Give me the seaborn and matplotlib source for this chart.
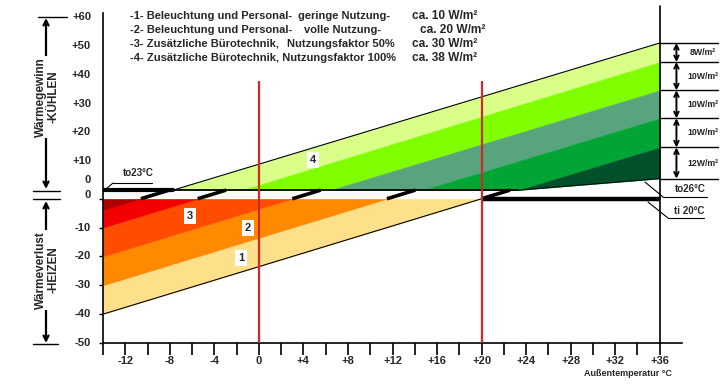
import numpy as np
import pandas as pd
import seaborn as sns
import matplotlib.pyplot as plt
from matplotlib.lines import Line2D

# --- values -----------------------------------------------------------------
t_min, t_max = -14, 36   # outdoor temperature range [°C]
gap = 3.0                # white strip between the two zero lines

# heating: value at -14 °C and temperature where each boundary reaches 0
heat_left = [-40, -30, -20, -10, -4]
heat_zero = [20, 11.5, 3.0, -5.5, -10.6]
heat_colors = ['#FFE08A', '#FF8A00', '#FF4D00', '#F50000', '#B00000']

# cooling: value at +36 °C and temperature where each boundary leaves 0
cool_right = [51, 44.4, 34.6, 24.9, 14.8]
cool_zero = [-7.7, -1.5, 6.4, 14.7, 23.3]
to26_right = 4.0
cool_colors = ['#DAFF88', '#80FF00', '#58A47C', '#00A535', '#00502A']
cool_watts = ['8W/m²', '10W/m²', '10W/m²', '10W/m²', '12W/m²']

red_temps = [0, 20]
red_top = 38

y_lower = [-50, -40, -30, -20, -10, 0]
y_upper = [0, 10, 20, 30, 40, 50, 60]
x_ticks = list(range(-14, 37, 2))
x_labels = ['' if t % 4 else ('0' if t == 0 else f'{t:+d}') for t in x_ticks]

legend_rows = [
    ('-1- Beleuchtung und Personal-', 'geringe Nutzung-', 'ca. 10 W/m²'),
    ('-2- Beleuchtung und Personal-', 'volle Nutzung-', 'ca. 20 W/m²'),
    ('-3- Zusätzliche Bürotechnik,', 'Nutzungsfaktor 50%', 'ca. 30 W/m²'),
    ('-4- Zusätzliche Bürotechnik, Nutzungsfaktor 100%', '', 'ca. 38 W/m²'),
]

sns.set_theme(style="ticks")
plt.rcParams['font.family'] = ['Liberation Sans', 'DejaVu Sans']
plt.rcParams['font.weight'] = 'bold'

W, H = 723, 385
fig = plt.figure(figsize=(W / 100, H / 100), dpi=100)
ax = fig.add_axes([103 / W, (H - 343) / H, (682 - 103) / W, (343 - 13) / H])
ax.set_xlim(-14, 38)
ax.set_ylim(-50, 64.4)


def through(x, x1, y1, x2, y2):
    return y1 + (y2 - y1) / (x2 - x1) * (x - x1)


xs = np.linspace(t_min, t_max, 2001)

# heating bands (below lower zero)
heat = [through(xs, t_min, v, z, 0) for v, z in zip(heat_left, heat_zero)]
for k, col in enumerate(heat_colors):
    lo = np.minimum(heat[k], 0)
    hi = np.minimum(heat[k + 1], 0) if k + 1 < len(heat) else np.zeros_like(xs)
    ax.fill_between(xs, lo, hi, where=hi > lo, interpolate=True,
                    color=col, lw=0.3, edgecolor=col, zorder=1)

# cooling bands (above upper zero)
cool = [through(xs, z, 0, t_max, v) for v, z in zip(cool_right, cool_zero)]
to26 = through(xs, cool_zero[-1], 0, t_max, to26_right)
for top, bot, col in zip(cool, cool[1:] + [to26], cool_colors):
    hi = np.maximum(top, 0) + gap
    lo = np.maximum(bot, 0) + gap
    ax.fill_between(xs, lo, hi, where=hi > lo, interpolate=True,
                    color=col, lw=0.3, edgecolor=col, zorder=1)

# outline lines
edge = pd.DataFrame({'t': [t_min, heat_zero[0]], 'q': [heat_left[0], 0]})
sns.lineplot(data=edge, x='t', y='q', ax=ax, color='black', lw=0.8, zorder=3)
edge = pd.DataFrame({'t': [cool_zero[0], t_max], 'q': [gap, cool_right[0] + gap]})
sns.lineplot(data=edge, x='t', y='q', ax=ax, color='black', lw=0.8, zorder=3)

ax.plot([t_min, cool_zero[-1]], [gap, gap], color='black', lw=1.3, zorder=3)
ax.plot([t_min, cool_zero[0]], [gap, gap], color='black', lw=3, zorder=3)
ax.plot([cool_zero[-1], t_max], [gap, to26_right + gap], color='black', lw=0.6, zorder=3)
ax.plot([heat_zero[0], t_max], [0, 0], color='black', lw=3.2, zorder=3,
        solid_capstyle='butt')

# heating boundaries continued through the strip
for v, z in zip(heat_left, heat_zero):
    slope = -v / (z - t_min)
    ax.plot([z, z + gap / slope], [0, gap], color='black', lw=2.6, zorder=3,
            solid_capstyle='butt')

ax.vlines(red_temps, -50, red_top + gap, color='#D02828', lw=1.6, zorder=4)
ax.plot([t_max, t_max], [-50, 67], color='black', lw=1.2, clip_on=False, zorder=4)

# right-hand scale of the cooling bands
bounds = [v + gap for v in cool_right + [to26_right]]
for b in bounds:
    ax.plot([t_max, 41.2], [b, b], color='black', lw=1, clip_on=False)
for b0, b1, lab in zip(bounds[:-1], bounds[1:], cool_watts):
    ax.annotate('', xy=(37.5, b0), xytext=(37.5, b1), annotation_clip=False,
                arrowprops=dict(arrowstyle='<->', lw=1.4, color='black',
                                mutation_scale=8, shrinkA=0, shrinkB=0))
    ax.text(39.9, (b0 + b1) / 2, lab, fontsize=6.3, fontweight='bold',
            ha='center', va='center', clip_on=False)

# band numbers
for s, t, q in [('1', -1.6, -20.5), ('2', -1.0, -10.1), ('3', -6.2, -6.0),
                ('4', 4.85, 10.4 + gap)]:
    ax.text(t, q, s, fontsize=8, fontweight='bold', ha='center', va='center',
            zorder=6, bbox=dict(facecolor='white', edgecolor='none', pad=2.2))

# axes
for side in ['top', 'right']:
    ax.spines[side].set_visible(False)
for side in ['left', 'bottom']:
    ax.spines[side].set_linewidth(1.2)
    ax.spines[side].set_color('black')
ax.set_xticks(x_ticks)
ax.set_xticklabels(x_labels, fontsize=8, fontweight='bold')
ax.tick_params(axis='x', length=8.6, width=1.2, pad=1, color='black')
ax.set_yticks(y_lower)
ax.set_yticklabels([])
ax.tick_params(axis='y', length=3, width=1, color='black')
ax.set_xlabel('')
ax.set_ylabel('')

ytr = ax.get_yaxis_transform()
for v in y_lower:
    ax.text(-0.0207, v + (1.3 if v == 0 else 0), '0' if v == 0 else str(v),
            transform=ytr, ha='right', va='center', fontsize=8, fontweight='bold')
for v in y_upper:
    ax.text(-0.0207, v + gap + (3.5 if v == 0 else 0), '0' if v == 0 else f'+{v}',
            transform=ytr, ha='right', va='center', fontsize=8, fontweight='bold')


# annotations in pixel positions
def seg(x1, y1, x2, y2, lw=1.0):
    fig.add_artist(Line2D([x1 / W, x2 / W], [1 - y1 / H, 1 - y2 / H],
                          transform=fig.transFigure, color='black', lw=lw))


def txt(x, y, s, **kw):
    fig.text(x / W, 1 - y / H, s, fontweight='bold', **kw)


def arrow(x, y1, y2):
    ax.annotate('', xy=(x, H - y1), xytext=(x, H - y2), xycoords='figure pixels',
                textcoords='figure pixels',
                arrowprops=dict(arrowstyle='<->', lw=1.6, color='black',
                                mutation_scale=9, shrinkA=0, shrinkB=0))


seg(38, 17, 67, 17)
seg(33, 190.7, 60, 190.7)
seg(33, 199.3, 60, 199.3)
seg(33, 344, 58, 344)
arrow(46, 18, 189)
arrow(46, 201, 343)
txt(47, 97, 'Wärmegewinn\n-KÜHLEN', rotation=90, ha='center', va='center',
    fontsize=8.5, linespacing=1.0,
    bbox=dict(facecolor='white', edgecolor='none', pad=0.5))
txt(47, 270, 'Wärmeverlust\n-HEIZEN', rotation=90, ha='center', va='center',
    fontsize=8.5, linespacing=1.0,
    bbox=dict(facecolor='white', edgecolor='none', pad=0.5))

col2_x = [298, 304, 287, None]
col3_x = [412, 420, 412, 412]
for (a, b, c), x2, x3, y in zip(legend_rows, col2_x, col3_x, [16, 30, 44, 58]):
    txt(130, y, a, ha='left', va='center', fontsize=8)
    if b:
        txt(x2, y, b, ha='left', va='center', fontsize=8)
    txt(x3, y, c, ha='left', va='center', fontsize=8.6)

txt(138, 173, 'to23°C', ha='center', va='center', fontsize=7)
seg(113, 183, 152, 183, 0.8)
seg(106, 189, 113, 183, 0.8)

txt(690, 189, 'to26°C', ha='center', va='center', fontsize=7)
seg(645, 182, 663, 197, 0.8)
seg(663, 197, 707, 197, 0.8)
txt(689, 211, 'ti 20°C', ha='center', va='center', fontsize=7)
seg(648, 202, 668, 218, 0.8)
seg(668, 218, 704, 218, 0.8)

txt(672, 373, 'Außentemperatur °C', ha='right', va='center', fontsize=6.5)

plt.savefig('out.png', dpi=100)
